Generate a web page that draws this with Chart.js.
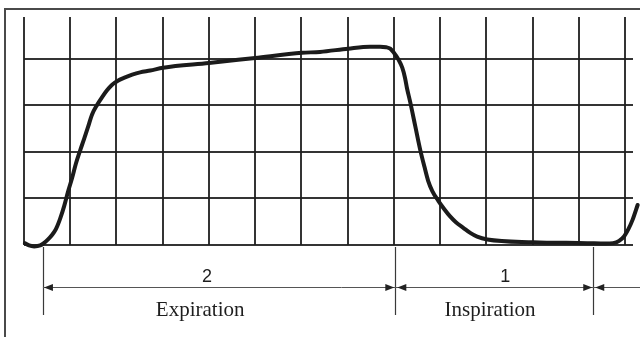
<!DOCTYPE html>
<html>
<head>
<meta charset="utf-8">
<script src="https://cdn.jsdelivr.net/npm/chart.js@4.4.1/dist/chart.umd.min.js"></script>
<style>
  html, body { margin: 0; padding: 0; background: #fff; }
  #wrap { width: 640px; height: 337px; }
</style>
</head>
<body>
<div id="wrap"><canvas id="chart" width="640" height="337"></canvas></div>
<script>
// time in grid divisions, level in grid divisions
let traceX = [0.02, 0.11, 0.22, 0.35, 0.43, 0.52, 0.61, 0.69, 0.78, 0.87, 0.95, 1.04, 1.12, 1.21, 1.30, 1.38, 1.47, 1.58, 1.69, 1.80, 1.90, 2.03, 2.16, 2.34, 2.51, 2.73, 3.01, 4.00, 5.00, 6.01, 6.40, 7.01, 7.48, 7.70, 7.83, 7.92, 8.00, 8.09, 8.18, 8.24, 8.28, 8.35, 8.46, 8.57, 8.66, 8.74, 8.83, 8.96, 9.09, 9.21, 9.34, 9.50, 9.65, 9.80, 10.02, 11.01, 12.18, 12.57, 12.74, 12.87, 12.98, 13.07, 13.16, 13.27];
let traceY = [0.04, -0.01, -0.03, -0.01, 0.04, 0.12, 0.22, 0.34, 0.56, 0.84, 1.14, 1.44, 1.74, 2.02, 2.28, 2.52, 2.80, 3.01, 3.18, 3.33, 3.44, 3.53, 3.59, 3.66, 3.71, 3.75, 3.81, 3.91, 4.02, 4.13, 4.15, 4.22, 4.26, 4.26, 4.25, 4.22, 4.13, 4.00, 3.81, 3.59, 3.38, 3.08, 2.56, 2.04, 1.68, 1.38, 1.16, 0.95, 0.77, 0.62, 0.49, 0.37, 0.26, 0.18, 0.12, 0.06, 0.04, 0.03, 0.04, 0.09, 0.19, 0.34, 0.54, 0.86];

// phase boundaries on the time axis and their labels
let phaseBounds = [0.41, 8.03, 12.31];
let phaseNumbers = ['2', '1'];
let phaseNames = ['Expiration', 'Inspiration'];
let numberAt = [3.96, 10.41];
let nameAt = [3.81, 10.08];

let points = traceX.map((x, i) => ({x: x, y: traceY[i]}));

function arrowHead(ctx, tipX, y, dir){
  ctx.beginPath();
  ctx.moveTo(tipX, y);
  ctx.lineTo(tipX - dir * 9, y - 3.5);
  ctx.lineTo(tipX - dir * 9, y + 3.5);
  ctx.closePath();
  ctx.fill();
}

const frameAndLabels = {
  id: 'frameAndLabels',
  beforeDraw(chart){
    let ctx = chart.ctx;
    ctx.save();
    ctx.fillStyle = '#fff';
    ctx.fillRect(0, 0, chart.width, chart.height);
    ctx.restore();
  },
  afterDraw(chart){
    let ctx = chart.ctx;
    let xs = chart.scales.x;
    let bottom = chart.chartArea.bottom;
    let rowY = bottom + 42;
    ctx.save();
    // page frame
    ctx.strokeStyle = '#4a4a4a';
    ctx.lineWidth = 2;
    ctx.beginPath();
    ctx.moveTo(5, chart.height);
    ctx.lineTo(5, 9);
    ctx.lineTo(chart.width, 9);
    ctx.stroke();

    // dimension ticks
    ctx.strokeStyle = '#3a3a3a';
    ctx.lineWidth = 1.2;
    phaseBounds.forEach(b => {
      let px = Math.round(xs.getPixelForValue(b)) + 0.5;
      ctx.beginPath();
      ctx.moveTo(px, bottom + 2);
      ctx.lineTo(px, bottom + 70);
      ctx.stroke();
    });

    // dimension line with arrows
    let p0 = xs.getPixelForValue(phaseBounds[0]);
    let p1 = xs.getPixelForValue(phaseBounds[1]);
    let p2 = xs.getPixelForValue(phaseBounds[2]);
    ctx.strokeStyle = '#555';
    ctx.lineWidth = 1;
    ctx.beginPath();
    ctx.moveTo(p0, rowY + 0.5);
    ctx.lineTo(chart.width, rowY + 0.5);
    ctx.stroke();
    ctx.fillStyle = '#222';
    arrowHead(ctx, p0 + 1, rowY + 0.5, -1);
    arrowHead(ctx, p1 - 1, rowY + 0.5, 1);
    arrowHead(ctx, p1 + 2, rowY + 0.5, -1);
    arrowHead(ctx, p2 - 1, rowY + 0.5, 1);
    arrowHead(ctx, p2 + 2, rowY + 0.5, -1);

    // labels
    ctx.fillStyle = '#1e1e1e';
    ctx.textAlign = 'center';
    ctx.textBaseline = 'alphabetic';
    ctx.font = '18px "Liberation Sans", Arial, sans-serif';
    phaseNumbers.forEach((t, i) => {
      ctx.fillText(t, xs.getPixelForValue(numberAt[i]), bottom + 37);
    });
    ctx.font = '21px "Liberation Serif", "Times New Roman", serif';
    phaseNames.forEach((t, i) => {
      ctx.fillText(t, xs.getPixelForValue(nameAt[i]), bottom + 71);
    });
    ctx.restore();
  }
};

let ctx = document.getElementById('chart').getContext('2d');
let myChart = new Chart(ctx, {
  type: 'line',
  data: {
    datasets: [{
      data: points,
      borderColor: '#1b1b1b',
      borderWidth: 4,
      pointRadius: 0,
      fill: false,
      cubicInterpolationMode: 'monotone',
      borderJoinStyle: 'round',
      borderCapStyle: 'round',
      clip: false
    }]
  },
  options: {
    responsive: false,
    animation: false,
    devicePixelRatio: 1,
    layout: { padding: { left: 24, top: 17, right: 7, bottom: 92 } },
    plugins: { legend: { display: false }, tooltip: { enabled: false } },
    scales: {
      x: {
        type: 'linear',
        min: 0,
        max: 13.17,
        ticks: { display: false, stepSize: 1, includeBounds: false },
        grid: { color: 'rgba(30,30,30,0.9)', lineWidth: 2, drawTicks: false },
        border: { display: false }
      },
      y: {
        min: 0,
        max: 4.9,
        ticks: { display: false, stepSize: 1, includeBounds: false },
        grid: { color: 'rgba(30,30,30,0.9)', lineWidth: 2, drawTicks: false },
        border: { display: false }
      }
    }
  },
  plugins: [frameAndLabels]
});
</script>
</body>
</html>
